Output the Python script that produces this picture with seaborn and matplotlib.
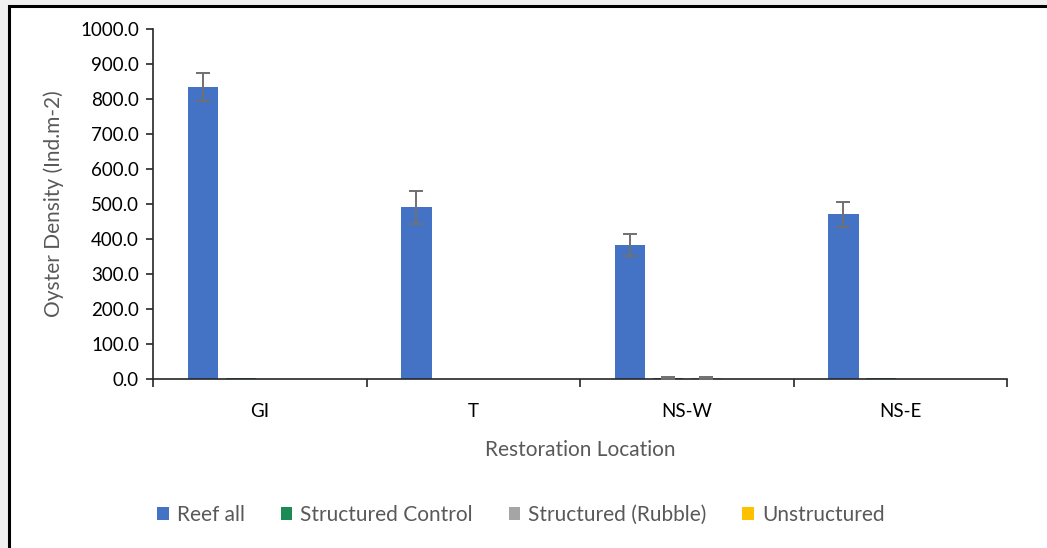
import matplotlib
matplotlib.use("Agg")
import matplotlib.pyplot as plt
from matplotlib.patches import Rectangle, Patch
import numpy as np
import pandas as pd
import seaborn as sns

# Mean oyster density per restoration location and habitat treatment
locations = ["GI", "T", "NS-W", "NS-E"]
treatments = ["Reef all", "Structured Control", "Structured (Rubble)", "Unstructured"]
reef_all = [833.0, 491.0, 383.0, 470.0]
structured_control = [2.0, 1.0, 3.0, 2.0]
structured_rubble = [0.0, 0.0, 3.0, 0.0]
unstructured = [0.0, 0.0, 0.0, 0.0]

# Standard errors
reef_all_se = [40.0, 47.0, 31.0, 37.0]
structured_control_se = [0.0, 0.0, 2.0, 0.0]
structured_rubble_se = [0.0, 0.0, 2.0, 0.0]
unstructured_se = [0.0, 0.0, 0.0, 0.0]

y_ticks = [0, 100, 200, 300, 400, 500, 600, 700, 800, 900, 1000]
y_tick_labels = ["0.0", "100.0", "200.0", "300.0", "400.0", "500.0",
                 "600.0", "700.0", "800.0", "900.0", "1000.0"]

palette = ["#4472C4", "#1B8A55", "#A5A5A5", "#FFC000"]
text_color = "#595959"

means = [reef_all, structured_control, structured_rubble, unstructured]
errors = [reef_all_se, structured_control_se, structured_rubble_se, unstructured_se]

rows = []
for t, vals, errs in zip(treatments, means, errors):
    for loc, v, e in zip(locations, vals, errs):
        rows.append({"Location": loc, "Treatment": t, "Density": v, "SE": e})
df = pd.DataFrame(rows)

sns.set_style("white")
plt.rcParams["font.family"] = ["Lato", "DejaVu Sans"]

W, H = 1047, 548
fig = plt.figure(figsize=(W / 100, H / 100), dpi=100)
fig.patch.set_facecolor("#F0F0F0")
# white chart area with a dark frame
frame = Rectangle((9 / W, -0.05), 1.1, 1 - 6 / H + 0.05,
                  transform=fig.transFigure, facecolor="white",
                  edgecolor="black", linewidth=2.2, zorder=-10)
fig.patches.append(frame)

ax = fig.add_axes([153 / W, 1 - 379 / H, (1007 - 153) / W, (379 - 29) / H])
ax.set_zorder(2)
ax.set_facecolor("none")

sns.barplot(data=df, x="Location", y="Density", hue="Treatment",
            hue_order=treatments, order=locations, palette=palette,
            width=0.71, gap=0.2, errorbar=None, legend=False, ax=ax,
            saturation=1, linewidth=0)

# error bars placed on the drawn bars
bars = [p for p in ax.patches if isinstance(p, Rectangle)]
for i, t in enumerate(treatments):
    for j, loc in enumerate(locations):
        row = df[(df.Treatment == t) & (df.Location == loc)].iloc[0]
        if row.SE <= 0:
            continue
        p = bars[i * len(locations) + j]
        xc = p.get_x() + p.get_width() / 2
        ax.errorbar(xc, row.Density, yerr=row.SE, fmt="none",
                    ecolor="#707070", elinewidth=1.4, capsize=4.7,
                    capthick=1.4, zorder=5)

ax.set_ylim(0, 1000)
ax.set_xlim(-0.5, len(locations) - 0.5)
ax.set_yticks(y_ticks)
ax.set_yticklabels(y_tick_labels)
ax.set_xticks(range(len(locations)))
ax.set_xticklabels(locations)

for s in ["top", "right"]:
    ax.spines[s].set_visible(False)
ax.spines["left"].set_color("#262626")
ax.spines["left"].set_linewidth(1.2)
ax.spines["bottom"].set_color("#262626")
ax.spines["bottom"].set_linewidth(1.2)

ax.tick_params(axis="y", direction="out", length=5, width=1.2, color="#262626",
               labelsize=13.5, labelcolor="black", pad=5, left=True)
ax.tick_params(axis="x", length=0, labelsize=13.5, labelcolor="black", pad=17)
# category boundary ticks on the horizontal axis
ax.set_xticks(np.arange(-0.5, len(locations)), minor=True)
ax.tick_params(axis="x", which="minor", direction="out", length=6, width=1.2,
               color="#262626", bottom=True)

ax.set_xlabel("Restoration Location", fontsize=15, color=text_color, labelpad=15)
ax.set_ylabel("Oyster Density (Ind.m-2)", fontsize=15, color=text_color, labelpad=12)

handles = [Patch(facecolor=c, edgecolor="none", label=t) for c, t in zip(palette, treatments)]
fig.legend(handles=handles, loc="center", bbox_to_anchor=(521 / W, 1 - 515 / H),
           ncol=4, frameon=False, fontsize=15, labelcolor=text_color,
           handlelength=0.55, handleheight=0.55, handletextpad=0.4,
           columnspacing=1.7)

fig.savefig("out.png", dpi=100, facecolor=fig.get_facecolor())
